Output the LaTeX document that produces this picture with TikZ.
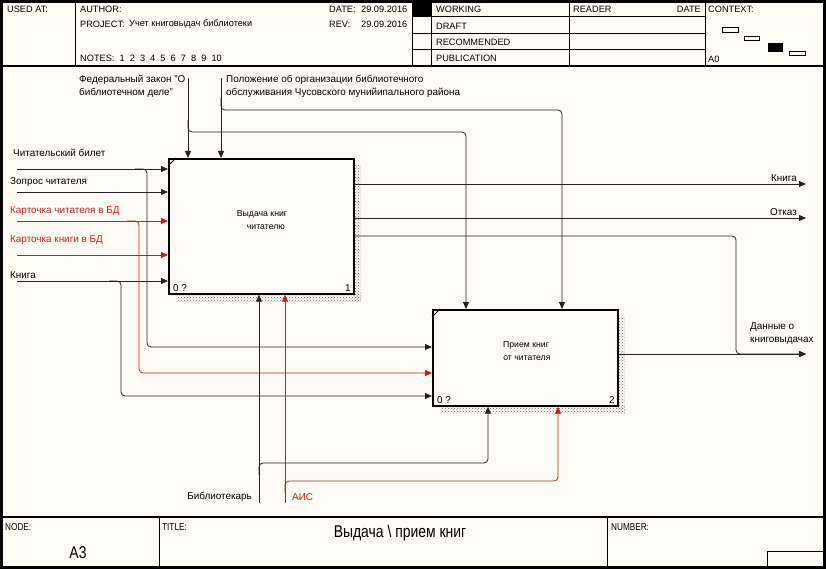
\documentclass[tikz,border=0pt]{standalone}
\usepackage{fontspec}
\setmainfont{Liberation Sans}
\newfontfamily\narrowfont[FakeStretch=0.82]{Liberation Sans}
\usetikzlibrary{arrows.meta,patterns,calc}
\definecolor{paper}{RGB}{253,251,244}
\definecolor{idefred}{RGB}{205,25,25}
\definecolor{linegray}{RGB}{35,35,35}
\begin{document}
\begin{tikzpicture}[x=1pt,y=-1pt,
  font=\fontsize{9.9}{13}\selectfont,
  lbl/.style={inner sep=0pt, anchor=west},
  hdr/.style={inner sep=0pt, anchor=west, font=\fontsize{9.2}{11}\selectfont},
  foot/.style={inner sep=0pt, anchor=west, font=\narrowfont\fontsize{10}{11}\selectfont},
  boxtext/.style={align=center, inner sep=0pt, font=\fontsize{8.7}{13.5}\selectfont},
  arr/.style={draw=linegray, line width=0.8pt, rounded corners=4pt, -{Triangle[length=7pt,width=6pt]}},
  redarr/.style={arr, draw=idefred},
  boxnode/.style={draw=black, line width=1.7pt, fill=paper, minimum width=185pt, inner sep=0pt},
  shadow/.style={pattern=crosshatch dots, pattern color=black!60},
  frame/.style={line width=1pt, draw=black}
]
\fill[paper] (0,0) rectangle (826,569);
\useasboundingbox (0,0) rectangle (826,569);

% ---------- header ----------
\draw[line width=3pt] (1.5,1.5) rectangle (824.5,567.5);
\draw[line width=1.5pt] (0,66) -- (826,66);
\draw[frame] (75,0) -- (75,66);
\draw[frame] (412,0) -- (412,66);
\draw[frame] (431,0) -- (431,66);
\draw[frame] (569,0) -- (569,66);
\draw[frame] (705,0) -- (705,66);
\foreach \yy in {17,34,50} \draw[frame] (412,\yy) -- (705,\yy);
\fill[black] (412,0) rectangle (431,17);

\node[hdr] (usedat) at (7,9) {USED AT:};
\node[hdr] (author) at (80,9) {AUTHOR:};
\node[hdr] (project) at (80,24) {PROJECT:};
\node[hdr] (projname) at (129,24) {Учет книговыдач библиотеки};
\node[hdr] (notes) at (80,58) {NOTES:\ \ 1\ \ 2\ \ 3\ \ 4\ \ 5\ \ 6\ \ 7\ \ 8\ \ 9\ \ 10};
\node[hdr] (datel) at (329,9) {DATE:};
\node[hdr] (datev) at (361,9) {29.09.2016};
\node[hdr] (revl) at (329,24) {REV:};
\node[hdr] (revv) at (361,24) {29.09.2016};
\node[hdr] (working) at (436,9) {WORKING};
\node[hdr] (draft) at (436,26) {DRAFT};
\node[hdr] (recom) at (436,42) {RECOMMENDED};
\node[hdr] (publ) at (436,58.5) {PUBLICATION};
\node[hdr] (reader) at (573,9) {READER};
\node[hdr, anchor=east] (rdate) at (701,9) {DATE};
\node[hdr] (context) at (708,9) {CONTEXT:};
\node[hdr] (azero) at (708,59) {A0};
\draw[line width=0.8pt] (722,27) rectangle (738,32);
\draw[line width=0.8pt] (744,36) rectangle (759,40);
\fill[black] (768,43) rectangle (783,52);
\draw[line width=0.8pt] (789,51) rectangle (805,55);

% ---------- footer ----------
\draw[line width=1.5pt] (0,517) -- (826,517);
\draw[frame] (159,517) -- (159,569);
\draw[frame] (607,517) -- (607,569);
\draw[frame] (767,569) -- (767,551) -- (826,551);
\node[foot] (nodel) at (5,527) {NODE:};
\node[foot] (titlel) at (162,527) {TITLE:};
\node[foot] (numberl) at (611,527) {NUMBER:};
\node[inner sep=0pt, font=\narrowfont\fontsize{17}{19}\selectfont] (a3) at (78,553) {A3};
\node[inner sep=0pt, font=\narrowfont\fontsize{17}{19}\selectfont] (title) at (400,533) {Выдача \textbackslash{} прием книг};

% ---------- shadows ----------
\fill[shadow] (353,166) rectangle (361,301);
\fill[shadow] (176,293) rectangle (361,301);
\fill[shadow] (617,317) rectangle (625,413);
\fill[shadow] (440,405) rectangle (625,413);

% ---------- boxes ----------
\node[boxnode, minimum height=135pt, anchor=north west] (b1) at (168,158) {};
\node[boxnode, minimum height=96pt, anchor=north west] (b2) at (432,309) {};
\draw[line width=1pt] ($(b1.north west)+(0,8)$) -- ($(b1.north west)+(8,0)$);
\draw[line width=1pt] ($(b2.north west)+(0,8)$) -- ($(b2.north west)+(8,0)$);
\node[boxtext] (b1t) at (262,220) {Выдача книг\\\hspace{0.9em}читателю};
\node[boxtext] (b2t) at (526,351) {Прием книг\\\hspace{0.2em}от читателя};
\node[lbl] (b1z) at ($(b1.south west)+(5,-7)$) {0 ?};
\node[lbl, anchor=east] (b1n) at ($(b1.south east)+(-4,-7)$) {1};
\node[lbl] (b2z) at ($(b2.south west)+(5,-7)$) {0 ?};
\node[lbl, anchor=east] (b2n) at ($(b2.south east)+(-4,-7)$) {2};

% ---------- controls ----------
\node[lbl, align=left] (law) at (79,86.5) {Федеральный закон "О\\библиотечном деле"};
\node[lbl, align=left] (reg) at (226,86.5) {Положение об организации библиотечного\\обслуживания Чусовского мунийипального района};
\coordinate (c1) at (188,78);
\coordinate (c2) at (221,78);
\coordinate (k1) at (466,132);
\coordinate (k2) at (562,110);
\draw[arr] (c1) -- (c1 |- b1.north);
\draw[arr] (c2) -- (c2 |- b1.north);
\draw[arr] (188,120) -- (188,132) -- (k1) -- (k1 |- b2.north);
\draw[arr] (221,98) -- (221,110) -- (k2) -- (k2 |- b2.north);

% ---------- inputs ----------
\node[lbl] (in1l) at (13,153) {Читательский билет};
\node[lbl] (in2l) at (10,182) {Зопрос читателя};
\node[lbl, text=idefred] (in3l) at (10,211) {Карточка читателя в БД};
\node[lbl, text=idefred] (in4l) at (10,240) {Карточка книги в БД};
\node[lbl] (in5l) at (10,275) {Книга};
\coordinate (i1) at (17,169);
\coordinate (i2) at (17,192);
\coordinate (i3) at (17,221);
\coordinate (i4) at (17,255);
\coordinate (i5) at (17,281);
\draw[arr] (i1) -- (i1 -| b1.west);
\draw[arr] (i2) -- (i2 -| b1.west);
\draw[redarr] (i3) -- (i3 -| b1.west);
\draw[redarr] (i4) -- (i4 -| b1.west);
\draw[arr] (i5) -- (i5 -| b1.west);
\coordinate (j1) at (147,347);
\coordinate (j3) at (139,373);
\coordinate (j5) at (121,396);
\draw[arr] (135,169) -- (147,169) -- (j1) -- (j1 -| b2.west);
\draw[redarr] (127,221) -- (139,221) -- (j3) -- (j3 -| b2.west);
\draw[arr] (109,281) -- (121,281) -- (j5) -- (j5 -| b2.west);

% ---------- outputs ----------
\coordinate (o1) at (806,184);
\coordinate (o2) at (806,218);
\coordinate (o3) at (806,354);
\coordinate (k3) at (736,236);
\draw[arr] (o1 -| b1.east) -- (o1);
\draw[arr] (o2 -| b1.east) -- (o2);
\draw[arr] (k3 -| b1.east) -- (k3) -- (736,354) -- (o3);
\draw[arr] (o3 -| b2.east) -- (o3);
\node[lbl, anchor=east] (out1l) at (797,178) {Книга};
\node[lbl, anchor=east] (out2l) at (797,212) {Отказ};
\node[lbl, align=left] (out3l) at (750,333.5) {Данные о\\книговыдачах};

% ---------- mechanisms ----------
\coordinate (m1) at (259,503);
\coordinate (m2) at (285,503);
\coordinate (k4) at (488,463);
\coordinate (k5) at (558,481);
\draw[arr] (m1) -- (m1 |- b1.south);
\draw[redarr] (m2) -- (m2 |- b1.south);
\draw[arr] (259,475) -- (259,463) -- (k4) -- (k4 |- b2.south);
\draw[redarr] (285,493) -- (285,481) -- (k5) -- (k5 |- b2.south);
\node[lbl, anchor=east] (mech1l) at (252,497) {Библиотекарь};
\node[lbl, text=idefred] (mech2l) at (292,497) {АИС};
\end{tikzpicture}
\end{document}
